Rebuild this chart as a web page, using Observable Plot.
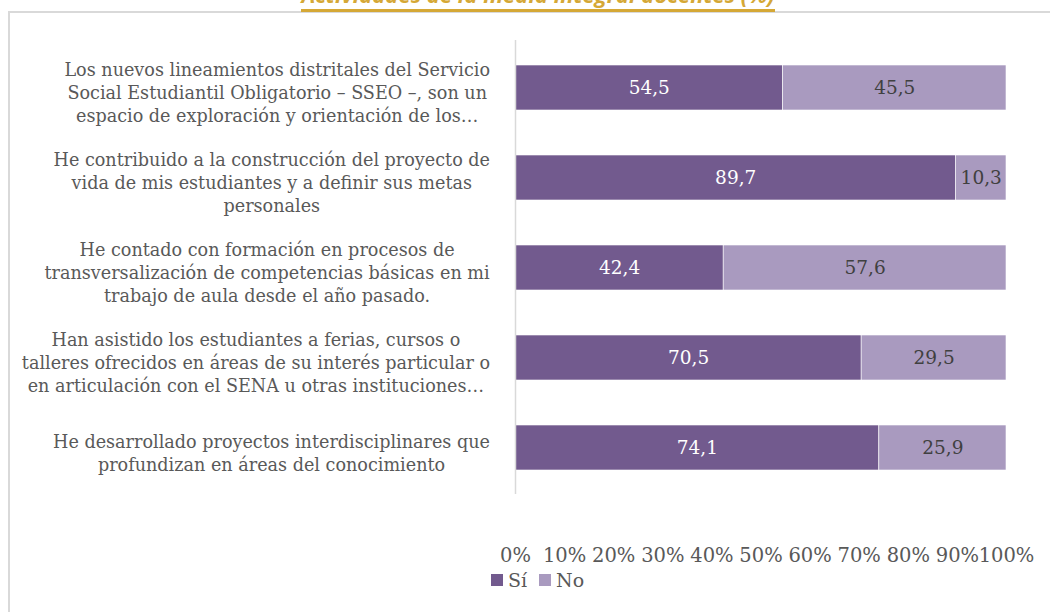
<!DOCTYPE html>
<html><head><meta charset="utf-8">
<script src="https://cdn.jsdelivr.net/npm/d3@7"></script>
<script src="https://cdn.jsdelivr.net/npm/@observablehq/plot@0.6"></script>
<style>
html,body{margin:0;padding:0;width:1050px;height:612px;overflow:hidden;background:#fff;}
#frame{position:absolute;left:8px;top:11px;width:1200px;height:800px;border:2px solid #D9D9D9;box-sizing:border-box;}
#title{position:absolute;left:0;width:1076px;top:-20px;text-align:center;font:italic 700 22px "Open Sans";color:#D5A836;line-height:28px;white-space:nowrap;}
#title span{border-bottom:3px solid #D5A836;}
#chart{position:absolute;left:0;top:0;}
#legend{position:absolute;top:569px;left:491px;font:19px "DejaVu Serif";color:#595959;display:flex;align-items:center;}
#legend .item{display:flex;align-items:center;margin-right:12px;}
#legend .sw{width:12px;height:12px;margin-right:5px;display:inline-block;}
</style>
</head><body>
<div id="frame"></div>
<div id="title"><span>Actividades de la media integral docentes (%)</span></div>
<div id="chart"></div>
<div id="legend"></div>
<script>
const categories = [
  "Los nuevos lineamientos distritales del Servicio\nSocial Estudiantil Obligatorio – SSEO –, son un\nespacio de exploración y orientación de los…",
  "He contribuido a la construcción del proyecto de\nvida de mis estudiantes y a definir sus metas\npersonales",
  "He contado con formación en procesos de\ntransversalización de competencias básicas en mi\ntrabajo de aula desde el año pasado.",
  "Han asistido los estudiantes a ferias, cursos o\ntalleres ofrecidos en áreas de su interés particular o\nen articulación con el SENA u otras instituciones…",
  "He desarrollado proyectos interdisciplinares que\nprofundizan en áreas del conocimiento"
];
const series = ["Sí", "No"];
const siValues = [54.5, 89.7, 42.4, 70.5, 74.1];
const noValues = [45.5, 10.3, 57.6, 29.5, 25.9];
const xTicks = [0, 10, 20, 30, 40, 50, 60, 70, 80, 90, 100];
const colors = ["#725A8E", "#A99ABF"];
const labelColors = ["#FFFFFF", "#404040"];

const data = [];
categories.forEach((c, i) => {
  data.push({category: c, series: "Sí", value: siValues[i]});
  data.push({category: c, series: "No", value: noValues[i]});
});
const fmt = v => v.toFixed(1).replace(".", ",");

const chart = Plot.plot({
  width: 1050,
  height: 612,
  marginLeft: 515,
  marginRight: 44,
  marginTop: 40,
  marginBottom: 118,
  style: {fontFamily: "DejaVu Serif", fontSize: "19px", color: "#595959", background: "transparent"},
  x: {domain: [0, 100], axis: null},
  y: {domain: categories, paddingInner: 0.5, paddingOuter: 0.25, axis: null},
  color: {domain: series, range: colors},
  marks: [
    Plot.barX(data, Plot.stackX({x: "value", y: "category", fill: "series", z: "series", stroke: "white", strokeWidth: 0.6})),
    Plot.text(data, Plot.stackX({x: "value", y: "category", z: "series", text: d => fmt(d.value),
      fill: d => labelColors[series.indexOf(d.series)], fontSize: 18.5})),
    Plot.ruleX([0], {stroke: "#D9D9D9", strokeWidth: 1.5}),
    Plot.axisY({label: null, tickSize: 0, textAnchor: "middle", dx: -230, dy: 4, lineHeight: 1.3, fontSize: 17.6, fill: "#595959"}),
    Plot.axisX({label: null, ticks: xTicks, tickFormat: d => d + "%", tickSize: 0, tickPadding: 54, fontSize: 19.5, fill: "#595959"})
  ]
});
document.getElementById("chart").appendChild(chart);

// Excel-style: each label block centred on itself, block right edge aligned near the axis
d3.select(chart).selectAll('g[aria-label="y-axis tick label"] text').each(function() {
  const chartLeft = chart.getBoundingClientRect().left;
  const r = this.getBoundingClientRect();
  const shift = 490 - (r.right - chartLeft);
  const t = this.getAttribute("transform") || "";
  this.setAttribute("transform", t + ` translate(${shift},0)`);
});

const legend = document.getElementById("legend");
series.forEach((s, i) => {
  const item = document.createElement("span");
  item.className = "item";
  const sw = document.createElement("span");
  sw.className = "sw";
  sw.style.background = colors[i];
  item.appendChild(sw);
  item.appendChild(document.createTextNode(s));
  legend.appendChild(item);
});
</script>
</body></html>
